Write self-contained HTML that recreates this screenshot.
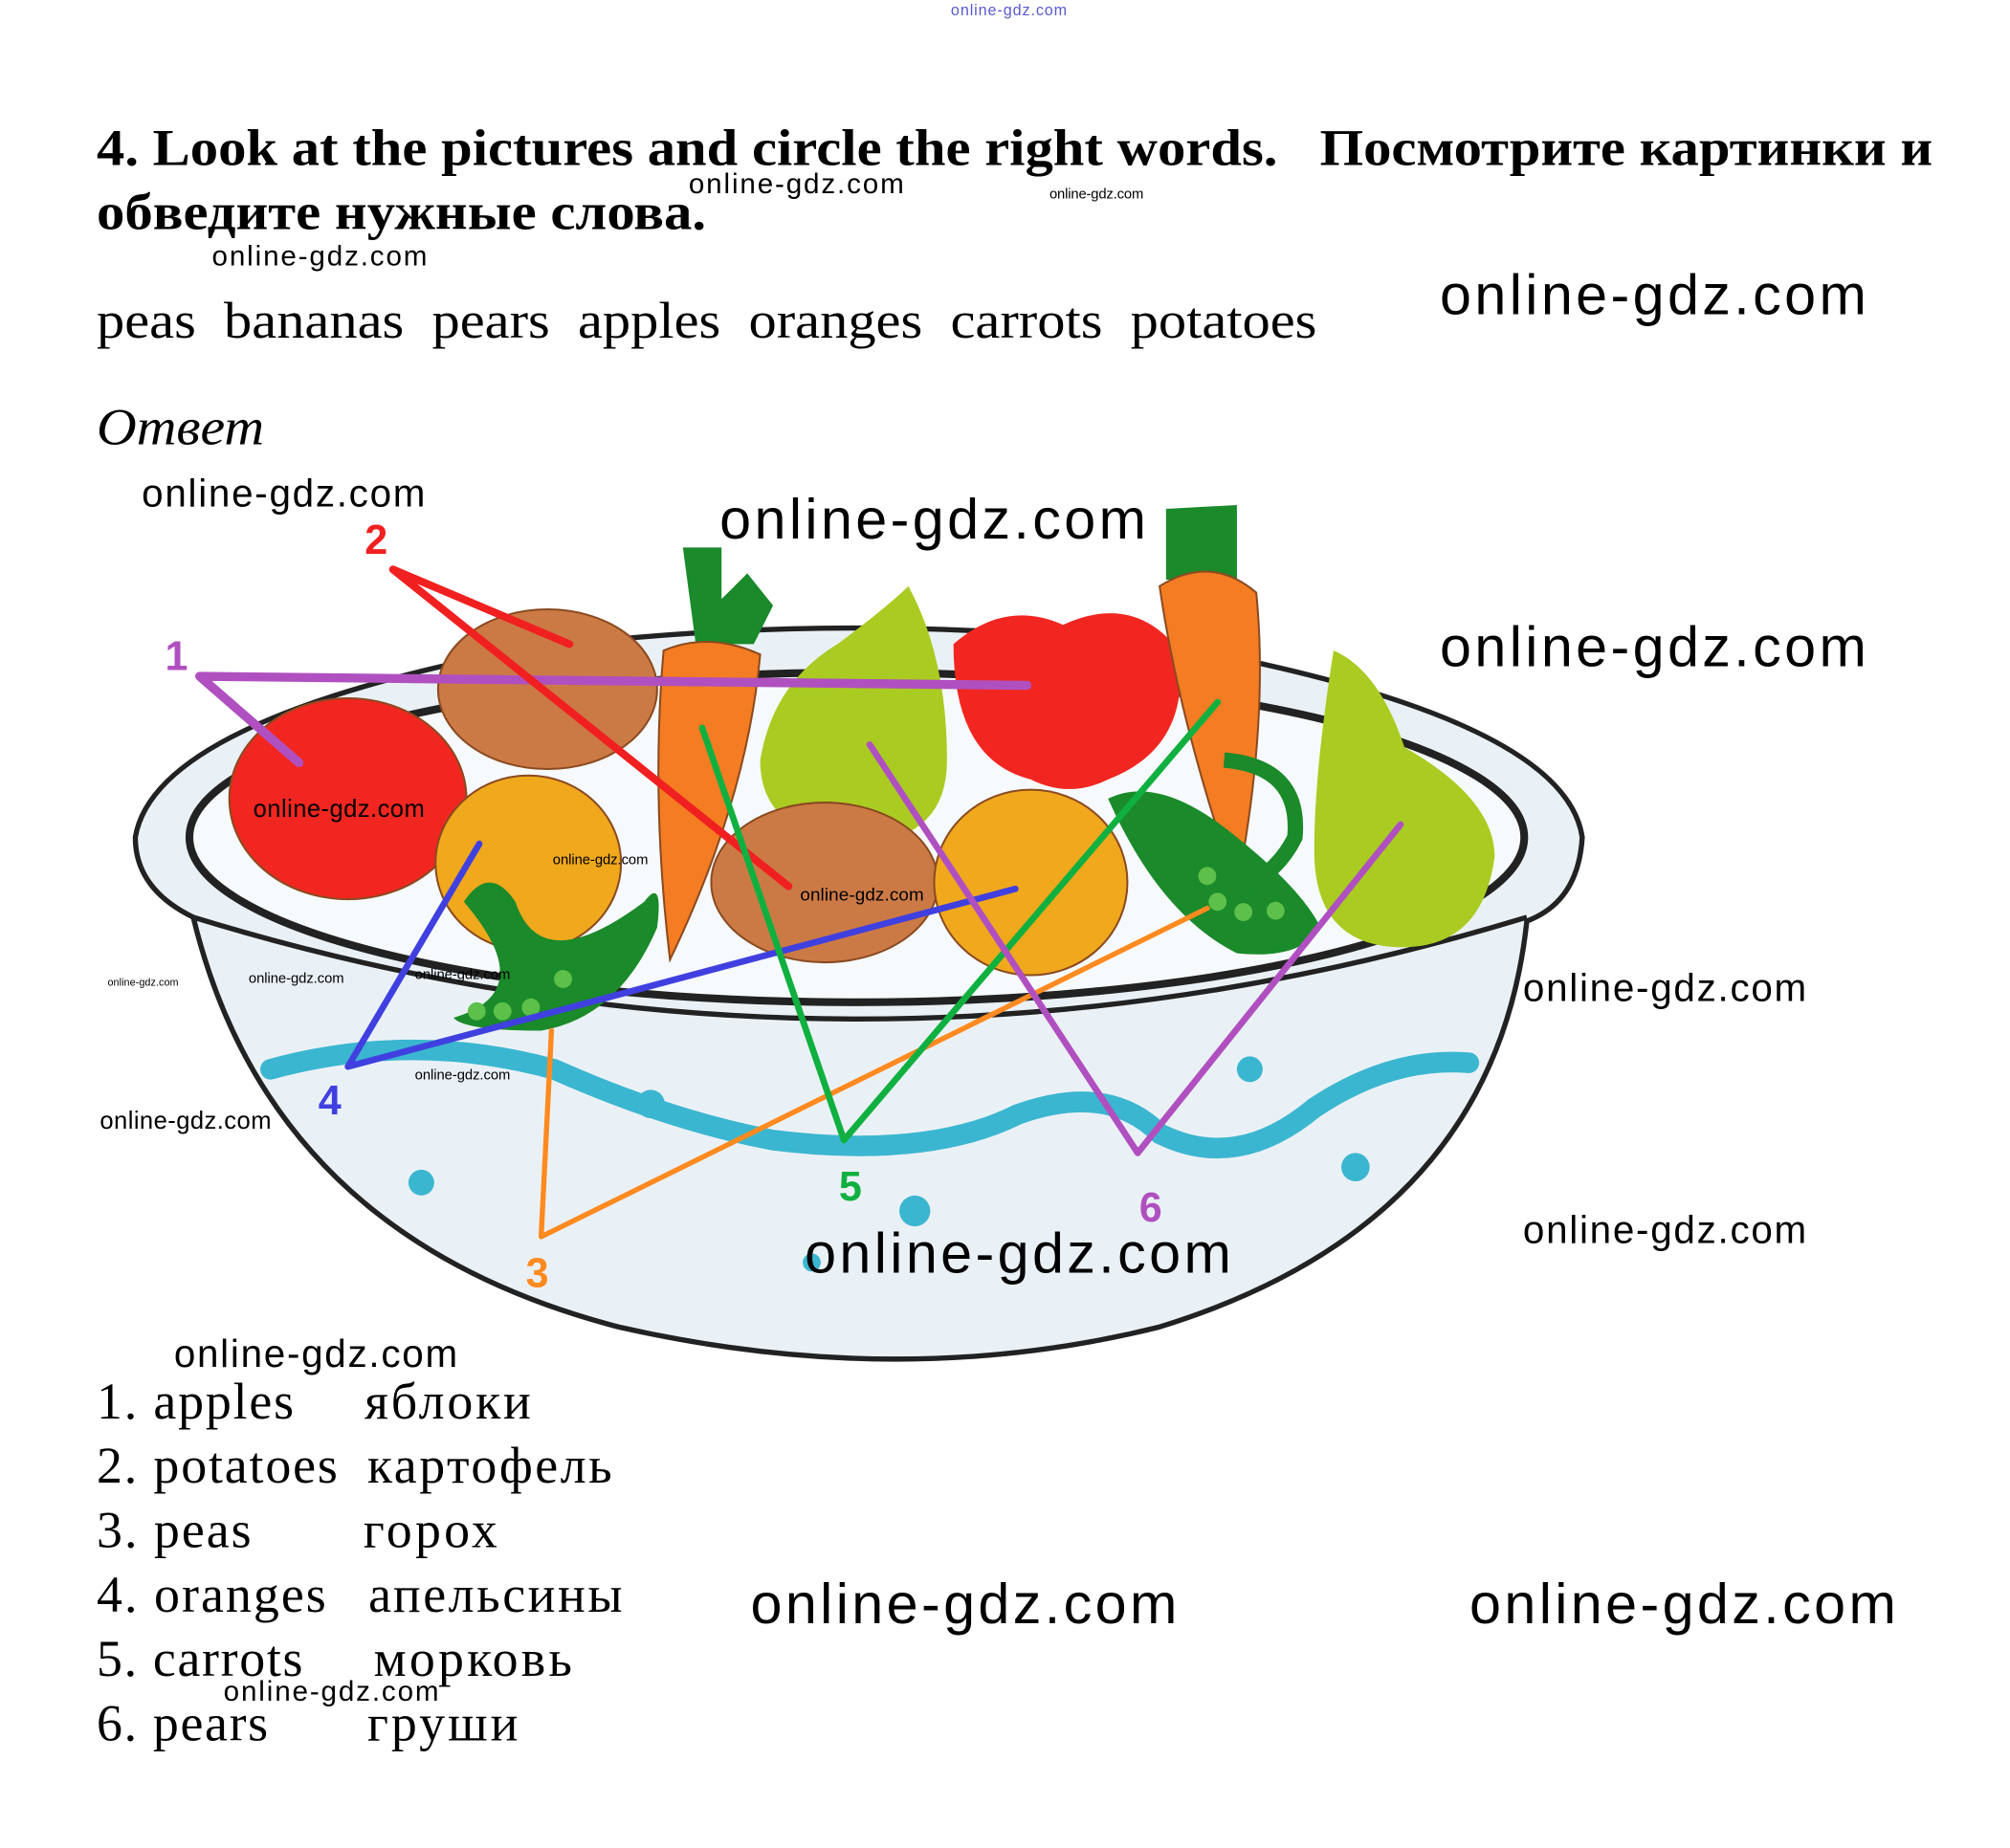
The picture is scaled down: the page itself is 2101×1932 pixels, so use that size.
<!DOCTYPE html>
<html><head><meta charset="utf-8"><style>html,body{margin:0;padding:0;background:#fff}svg{display:block}text{white-space:pre}</style></head>
<body>
<svg width="2101" height="1932" viewBox="0 0 1560 1434.5" xmlns="http://www.w3.org/2000/svg">
<rect width="1560" height="1434.5" fill="#fff"/>
<g font-family="Liberation Serif, Noto Serif CJK SC, serif" fill="#000">
<text x="75" y="128" font-size="40" font-weight="bold" textLength="1425" lengthAdjust="spacingAndGlyphs">4. Look at the pictures and circle the right words.   Посмотрите картинки и</text>
<text x="75" y="178" font-size="40" font-weight="bold" textLength="473" lengthAdjust="spacingAndGlyphs">обведите нужные слова.</text>
<text x="75" y="262" font-size="40" textLength="947" lengthAdjust="spacingAndGlyphs">peas  bananas  pears  apples  oranges  carrots  potatoes</text>
<text x="75" y="345" font-size="40" font-style="italic" textLength="130" lengthAdjust="spacingAndGlyphs">Ответ</text>
</g>
<!-- bowl -->
<g>
<path d="M105,650 Q120,560 400,505 Q665,470 930,505 Q1215,560 1228,650 Q1225,700 1185,715 Q1160,950 900,1030 Q700,1080 480,1030 Q210,960 150,712 Q105,690 105,650 Z" fill="#eaf1f6" stroke="#222" stroke-width="4"/>
<ellipse cx="665" cy="650" rx="518" ry="128" fill="#f7fafc" stroke="#222" stroke-width="6"/>
<path d="M150,712 Q665,870 1185,712" fill="none" stroke="#222" stroke-width="4"/>
<path d="M210,830 Q320,800 430,830 Q520,870 600,885 Q720,900 790,865 Q860,840 900,880 Q960,910 1020,860 Q1080,820 1140,825" fill="none" stroke="#3bb6d0" stroke-width="16" stroke-linecap="round"/>
<g fill="#3bb6d0"><circle cx="327" cy="918" r="10"/><circle cx="505" cy="857" r="11"/><circle cx="710" cy="940" r="12"/><circle cx="970" cy="830" r="10"/><circle cx="1052" cy="906" r="11"/><circle cx="630" cy="980" r="7"/></g>
</g>
<!-- fruits -->
<g stroke="#8a4a20" stroke-width="1.5">
<path d="M530,425 L560,425 L560,465 L580,445 L600,470 L585,500 L540,500 Z" fill="#1a8a2a" stroke="none"/>
<path d="M905,395 L960,392 L960,450 L905,450 Z" fill="#1a8a2a" stroke="none"/>
<ellipse cx="425" cy="535" rx="85" ry="62" fill="#cc7a45"/>
<ellipse cx="270" cy="620" rx="92" ry="78" fill="#f22620"/>
<ellipse cx="410" cy="670" rx="72" ry="68" fill="#f0a81c"/>
<path d="M515,505 Q550,490 590,508 Q580,620 520,745 Q505,620 515,505 Z" fill="#f47c22"/>
<path d="M705,455 Q735,510 735,590 Q735,650 670,655 Q590,650 590,590 Q600,530 650,500 Q690,470 705,455 Z" fill="#aacb22" stroke="none"/>
<ellipse cx="640" cy="685" rx="88" ry="62" fill="#cc7a45"/>
<ellipse cx="800" cy="685" rx="75" ry="72" fill="#f0a81c"/>
<path d="M740,500 Q780,465 825,485 Q880,460 915,505 Q925,580 860,605 Q830,620 800,605 Q740,590 740,500 Z" fill="#f22620" stroke="none"/>
<path d="M900,455 Q940,430 975,460 Q985,560 960,690 Q915,560 900,455 Z" fill="#f47c22"/>
<path d="M1035,505 Q1070,520 1090,580 Q1160,620 1160,665 Q1150,740 1080,735 Q1020,730 1020,660 Q1020,600 1035,505 Z" fill="#aacb22" stroke="none"/>
<path d="M360,700 Q380,670 400,700 Q420,760 500,700 Q515,680 510,720 Q480,790 420,800 Q360,800 352,790 Q420,770 360,700 Z" fill="#1a8a2a" stroke="none"/>
<path d="M860,620 Q900,600 960,650 Q1010,690 1025,720 Q1010,745 960,740 Q900,710 860,620 Z" fill="#1a8a2a" stroke="none"/>
<path d="M950,590 Q1010,595 1005,650 Q990,680 960,690" fill="none" stroke="#1a8a2a" stroke-width="12"/>
<g fill="#5cc04a" stroke="none"><circle cx="370" cy="785" r="7"/><circle cx="390" cy="785" r="7"/><circle cx="412" cy="782" r="7"/><circle cx="437" cy="760" r="7"/><circle cx="937" cy="680" r="7"/><circle cx="945" cy="700" r="7"/><circle cx="965" cy="708" r="7"/><circle cx="990" cy="707" r="7"/></g>
</g>
<!-- lines -->
<g fill="none" stroke-linecap="round" stroke-linejoin="round">
<path d="M232,592 L155,525 L797,532" stroke="#b050c0" stroke-width="7"/>
<path d="M442,500 L305,442 L612,688" stroke="#f02020" stroke-width="6"/>
<path d="M428,800 L420,960 L937,705" stroke="#ff8a20" stroke-width="4"/>
<path d="M372,655 L270,828 L788,690" stroke="#4040e0" stroke-width="5"/>
<path d="M545,565 L655,885 L945,545" stroke="#10b040" stroke-width="5"/>
<path d="M675,578 L883,895 L1087,640" stroke="#b050c0" stroke-width="5"/>
</g>
<g font-family="Liberation Sans, sans-serif" font-size="32" font-weight="bold" text-anchor="middle">
<text x="137" y="520" fill="#b050c0">1</text>
<text x="292" y="430" fill="#f02020">2</text>
<text x="417" y="999" fill="#ff8a20">3</text>
<text x="256" y="865" fill="#4040e0">4</text>
<text x="660" y="932" fill="#10b040">5</text>
<text x="893" y="948" fill="#b050c0">6</text>
</g>
<!-- list -->
<g font-family="Liberation Serif, serif" font-size="40" fill="#000" lengthAdjust="spacingAndGlyphs">
<text x="75" y="1101" textLength="153">1. apples</text><text x="283" y="1101" textLength="129">яблоки</text>
<text x="75" y="1151" textLength="187">2. potatoes</text><text x="285" y="1151" textLength="190">картофель</text>
<text x="75" y="1201" textLength="120">3. peas</text><text x="282" y="1201" textLength="104">горох</text>
<text x="75" y="1251" textLength="178">4. oranges</text><text x="286" y="1251" textLength="197">апельсины</text>
<text x="75" y="1301" textLength="160">5. carrots</text><text x="290" y="1301" textLength="154">морковь</text>
<text x="75" y="1351" textLength="133">6. pears</text><text x="285" y="1351" textLength="117">груши</text>
</g>
<!-- watermarks -->
<g font-family="Liberation Sans, sans-serif" fill="#000" text-anchor="middle" lengthAdjust="spacingAndGlyphs">
<text x="783" y="12" font-size="12" fill="#5a5ad0" textLength="90">online-gdz.com</text>
<text x="618" y="150" font-size="22" textLength="167">online-gdz.com</text>
<text x="851" y="154" font-size="11" textLength="73">online-gdz.com</text>
<text x="248" y="206" font-size="22" textLength="167">online-gdz.com</text>
<text x="1283" y="244" font-size="44" textLength="331">online-gdz.com</text>
<text x="220" y="393" font-size="30" textLength="220">online-gdz.com</text>
<text x="724" y="418" font-size="44" textLength="331">online-gdz.com</text>
<text x="1283" y="517" font-size="44" textLength="331">online-gdz.com</text>
<text x="263" y="634" font-size="19" textLength="133">online-gdz.com</text>
<text x="466" y="671" font-size="11" textLength="74">online-gdz.com</text>
<text x="669" y="699" font-size="14" textLength="96">online-gdz.com</text>
<text x="111" y="765" font-size="8" textLength="55">online-gdz.com</text>
<text x="230" y="763" font-size="11" textLength="74">online-gdz.com</text>
<text x="359" y="760" font-size="11" textLength="74">online-gdz.com</text>
<text x="359" y="838" font-size="11" textLength="74">online-gdz.com</text>
<text x="1292" y="777" font-size="30" textLength="220">online-gdz.com</text>
<text x="144" y="876" font-size="19" textLength="133">online-gdz.com</text>
<text x="790" y="988" font-size="44" textLength="331">online-gdz.com</text>
<text x="1292" y="965" font-size="30" textLength="220">online-gdz.com</text>
<text x="245" y="1061" font-size="30" textLength="220">online-gdz.com</text>
<text x="748" y="1260" font-size="44" textLength="331">online-gdz.com</text>
<text x="1306" y="1260" font-size="44" textLength="331">online-gdz.com</text>
<text x="257" y="1320" font-size="22" textLength="167">online-gdz.com</text>
</g>
</svg>
</body></html>
